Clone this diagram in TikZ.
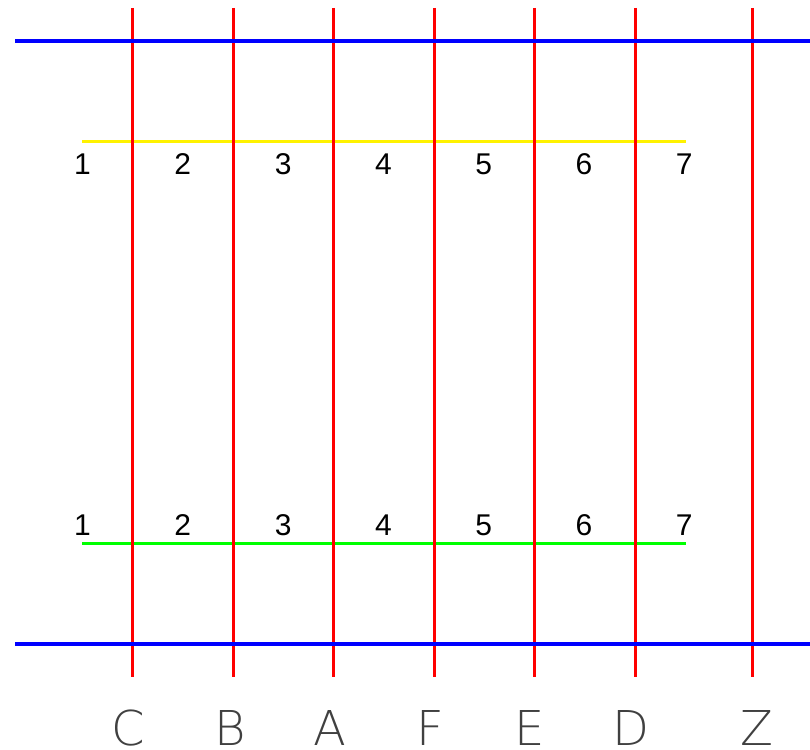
\documentclass[tikz,border=0pt]{standalone}
\usepackage{fontspec}
\setmainfont{Liberation Sans}
\newfontfamily\stickfont{DejaVu Sans ExtraLight}
\usetikzlibrary{math}

\begin{document}
\begin{tikzpicture}[x=1pt,y=-1pt,
    redline/.style={red,line width=3pt},
    blueline/.style={blue,line width=3.4pt},
    railline/.style={line width=3pt},
    numlabel/.style={inner sep=0pt,font=\fontsize{30}{30}\selectfont},
    axislabel/.style={inner sep=0pt,anchor=base,text=black!75,font=\stickfont\fontsize{48}{48}\selectfont}]
    \useasboundingbox (0,0) rectangle (810,749);
    %% 黄线和绿线
    \coordinate (yl) at (82,141);  \coordinate (yr) at (686,141);
    \coordinate (gl) at (82,543);  \coordinate (gr) at (686,543);
    \draw[railline,yellow] (yl) -- (yr);
    \draw[railline,green] (gl) -- (gr);
    %% 红色竖线
    \foreach \x [count=\k] in {132.5,233,333.5,434,534.5,635,752}{
        \coordinate (rt\k) at (\x,8);
        \coordinate (rb\k) at (\x,677);
        \draw[redline] (rt\k) -- (rb\k);
    }
    %% 蓝色横线
    \coordinate (bl1) at (15,41);  \coordinate (br1) at (810,41);
    \coordinate (bl2) at (15,644); \coordinate (br2) at (810,644);
    \draw[blueline] (bl1) -- (br1);
    \draw[blueline] (bl2) -- (br2);
    %% 编号
    \tikzmath{%
        function marks(\n){ %
            \x = 82.5 + 100.3*(\n-1);
            { \node[numlabel] (top\n) at (\x,164) {\n}; };
            { \node[numlabel] (bot\n) at (\x,525) {\n}; };
        };
        marks(1); marks(2); marks(3); marks(4);
        marks(5); marks(6); marks(7);
    };
    %% 底部字母
    \foreach \l/\x in {C/128,B/230,A/330,F/430,E/530,D/631,Z/757}{
        \node[axislabel] (ax\l) at (\x,745) {\l};
    }
\end{tikzpicture}
\end{document}
